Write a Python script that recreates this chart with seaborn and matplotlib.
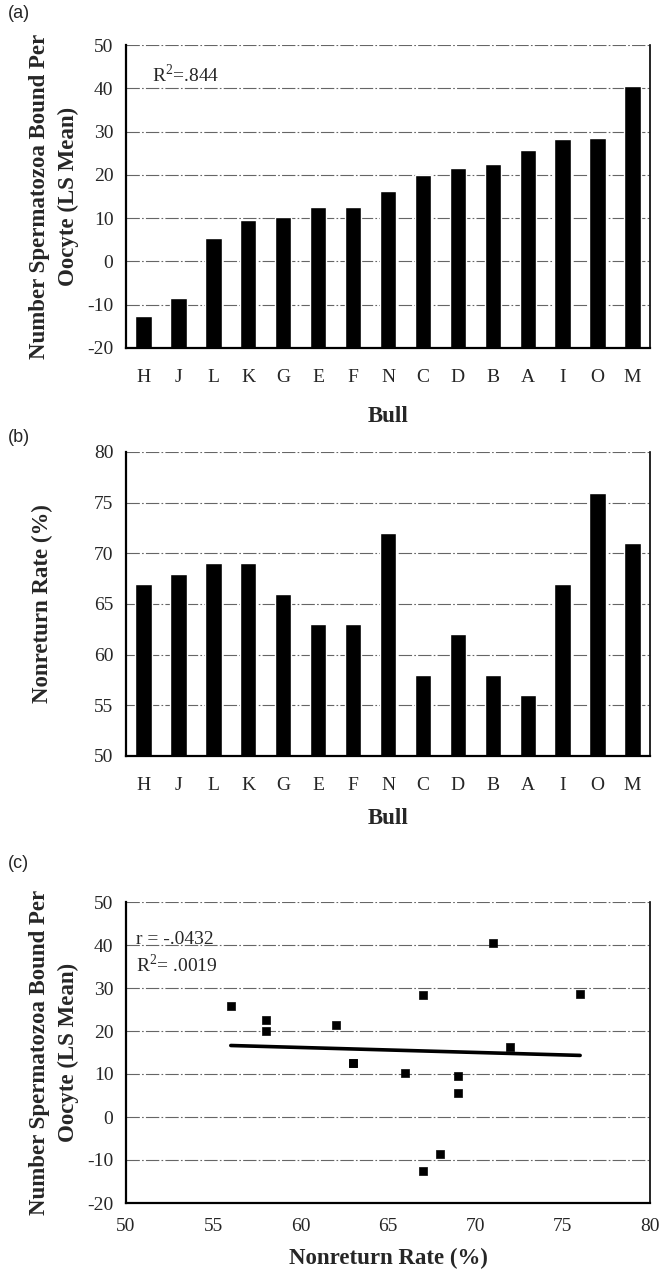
import numpy as np
import pandas as pd
import matplotlib
matplotlib.use("Agg")
import matplotlib.pyplot as plt
import seaborn as sns
from matplotlib.ticker import MultipleLocator, FixedLocator

# bulls in the order shown on the x axis
bulls = ["H", "J", "L", "K", "G", "E", "F", "N", "C", "D", "B", "A", "I", "O", "M"]
# (a) spermatozoa bound per oocyte, LS mean
sperm_bound = [-12.5, -8.5, 5.5, 9.5, 10.2, 12.5, 12.5, 16.3, 20.0, 21.5, 22.5, 25.8, 28.3, 28.6, 40.5]
# (b) nonreturn rate, %
nonreturn = [67, 68, 69, 69, 66, 63, 63, 72, 58, 62, 58, 56, 67, 76, 71]

sperm_label = "Number Spermatozoa Bound Per\nOocyte (LS Mean)"
nr_label = "Nonreturn Rate (%)"

sns.set_style("white")
plt.rcParams["font.family"] = ["Liberation Serif", "DejaVu Serif"]
plt.rcParams["mathtext.fontset"] = "custom"
plt.rcParams["mathtext.rm"] = "Liberation Serif"
plt.rcParams["axes.unicode_minus"] = False

df = pd.DataFrame({"bull": bulls, "sperm": sperm_bound, "nr": nonreturn})

fig = plt.figure(figsize=(6.61, 12.77), dpi=100)
W = 661.0
H = 1277.0
left = 126 / W
width = (650 - 126) / W
LABEL_FS = 16.5
TICK_FS = 14


def add_axes(top_px, bottom_px):
    return fig.add_axes([left, 1 - bottom_px / H, width, (bottom_px - top_px) / H])


def style_axes(ax):
    ax.set_axisbelow(True)
    ax.yaxis.grid(True, color="0.4", linewidth=0.8, linestyle=(0, (12, 2, 1.5, 2)))
    ax.xaxis.grid(False)
    ax.spines["top"].set_visible(False)
    for side in ["left", "bottom"]:
        ax.spines[side].set_linewidth(1.6)
        ax.spines[side].set_color("black")
    ax.spines["right"].set_linewidth(1.2)
    ax.spines["right"].set_color("black")
    ax.tick_params(axis="y", length=0, pad=9, labelsize=TICK_FS)


def bar_panel(ax, col, ylim, step):
    # bars rise from the bottom of the axis, not from zero
    base = ylim[0]
    d = df.assign(height=df[col] - base)
    sns.barplot(data=d, x="bull", y="height", color="black", width=0.47,
                saturation=1, ax=ax, order=bulls, bottom=base, errorbar=None)
    style_axes(ax)
    ax.set_ylim(*ylim)
    ax.set_xlim(-0.5, len(bulls) - 0.5)
    ax.yaxis.set_major_locator(MultipleLocator(step))
    ax.xaxis.set_minor_locator(FixedLocator(np.arange(-0.5, len(bulls), 1.0)))
    ax.tick_params(axis="x", which="major", length=0, pad=15, labelsize=TICK_FS)
    ax.tick_params(axis="x", which="minor", length=4, width=0.8, direction="out", color="0.3")
    ax.set_xlabel("Bull", fontsize=LABEL_FS, fontweight="bold")


# (a)
ax1 = add_axes(45, 348)
bar_panel(ax1, "sperm", (-20, 50), 10)
ax1.set_ylabel(sperm_label, fontsize=LABEL_FS, fontweight="bold", linespacing=1.45)
ax1.yaxis.set_label_coords(-0.09, 0.5)
ax1.xaxis.set_label_coords(0.5, -0.19)
ax1.text(0.05, 0.9, r"R$^2$=.844", transform=ax1.transAxes, fontsize=14, va="center")

# (b)
ax2 = add_axes(452, 756)
bar_panel(ax2, "nr", (50, 80), 5)
ax2.set_ylabel(nr_label, fontsize=LABEL_FS, fontweight="bold")
ax2.yaxis.set_label_coords(-0.14, 0.5)
ax2.xaxis.set_label_coords(0.5, -0.17)

# (c)
ax3 = add_axes(902, 1203)
sns.scatterplot(data=df, x="nr", y="sperm", marker="s", color="black", s=36,
                edgecolor="black", ax=ax3, zorder=3)
sns.regplot(data=df, x="nr", y="sperm", scatter=False, ci=None, truncate=True,
            color="black", line_kws={"linewidth": 2.6}, ax=ax3)
style_axes(ax3)
ax3.set_xlim(50, 80)
ax3.set_ylim(-20, 50)
ax3.xaxis.set_major_locator(MultipleLocator(5))
ax3.yaxis.set_major_locator(MultipleLocator(10))
ax3.tick_params(axis="x", length=4, width=0.8, direction="out", pad=7, labelsize=TICK_FS)
ax3.set_xlabel(nr_label, fontsize=LABEL_FS, fontweight="bold")
ax3.set_ylabel(sperm_label, fontsize=LABEL_FS, fontweight="bold", linespacing=1.45)
ax3.yaxis.set_label_coords(-0.09, 0.5)
ax3.xaxis.set_label_coords(0.5, -0.15)
ax3.text(0.02, 0.875, "r = -.0432", transform=ax3.transAxes, fontsize=14, va="center")
ax3.text(0.02, 0.79, r"R$^2$= .0019", transform=ax3.transAxes, fontsize=14, va="center")

# panel letters
for letter, ypx in [("(a)", 14), ("(b)", 437), ("(c)", 864)]:
    fig.text(8 / W, 1 - ypx / H, letter, fontsize=13, va="center", ha="left",
             family=["Liberation Sans", "DejaVu Sans"])

fig.savefig("out.png", dpi=100)
